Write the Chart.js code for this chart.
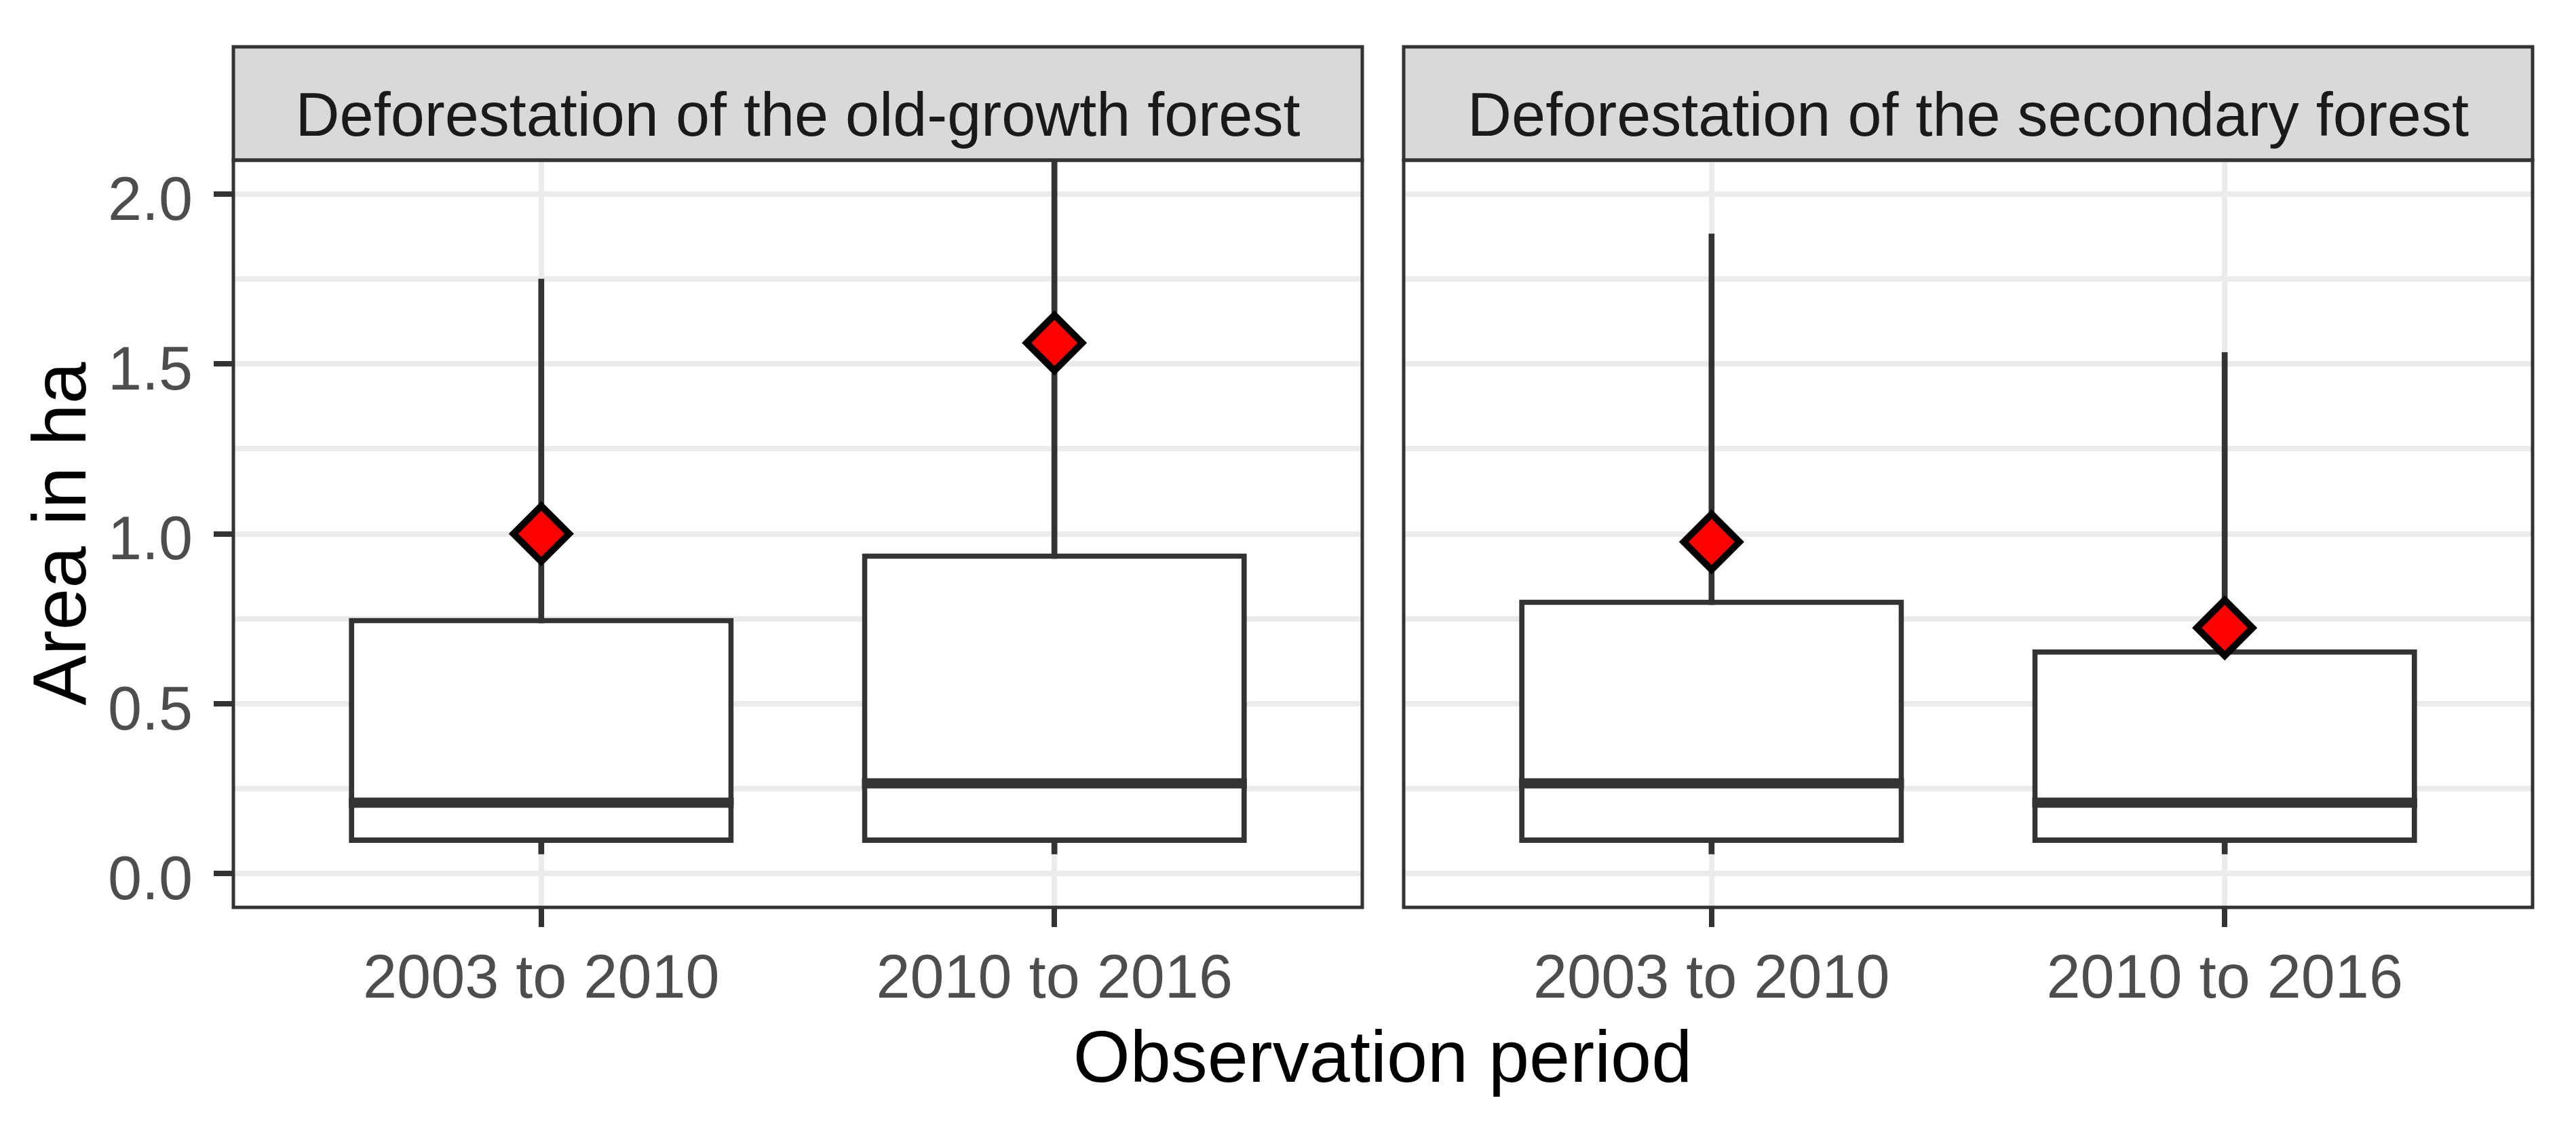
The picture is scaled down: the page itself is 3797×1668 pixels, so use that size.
<!DOCTYPE html>
<html>
<head>
<meta charset="utf-8">
<script src="https://cdn.jsdelivr.net/npm/chart.js@4.4.1/dist/chart.umd.min.js"></script>
<style>
    body { margin: 0; background: #ffffff; }
    #pagina { position: relative; width: 3797px; height: 1668px; font-family: "Liberation Sans", Arial, sans-serif; }
    .painel { position: absolute; top: 60px; height: 1440px; }
    #tituloX { position: absolute; left: 1038px; width: 2000px; top: 1503px; text-align: center; font-size: 108px; line-height: 108px; color: #000000; }
</style>
</head>
<body>
<div id="pagina">
    <div class="painel" style="left:0px;width:2020px"><canvas id="painelAntigo"></canvas></div>
    <div class="painel" style="left:2050px;width:1695px"><canvas id="painelSecundario"></canvas></div>
    <div id="tituloX">Observation period</div>
</div>
<script>
// categorias e valores
const periods = ['2003 to 2010', '2010 to 2016'];
const periodX = [1, 2];
const panelTitles = ['Deforestation of the old-growth forest', 'Deforestation of the secondary forest'];
const yMajorTicks = [0, 0.5, 1.0, 1.5, 2.0];
const yMinorTicks = [0.25, 0.75, 1.25, 1.75];

// floresta primária (old-growth)
const oldLow = [0.057, 0.057];
const oldQ1 = [0.09, 0.09];
const oldMedian = [0.208, 0.265];
const oldQ3 = [0.752, 0.942];
const oldHigh = [1.75, 2.4];
const oldMean = [1.0, 1.562];

// floresta secundária
const secLow = [0.057, 0.057];
const secQ1 = [0.09, 0.09];
const secMedian = [0.265, 0.208];
const secQ3 = [0.806, 0.66];
const secHigh = [1.883, 1.534];
const secMean = [0.976, 0.723];

Chart.defaults.font.family = '"Liberation Sans", Arial, sans-serif';

// desenha medianas, moldura do painel e a faixa do título
const painelPlugin = {
    id: 'painel',
    afterDatasetsDraw(chart, args, opts) {
        const ctx = chart.ctx;
        const meta = chart.getDatasetMeta(1);
        ctx.save();
        ctx.strokeStyle = '#333333';
        ctx.lineWidth = 15;
        meta.data.forEach(function (bar, i) {
            const y = chart.scales.y.getPixelForValue(opts.median[i]);
            ctx.beginPath();
            ctx.moveTo(bar.x - bar.width / 2, y);
            ctx.lineTo(bar.x + bar.width / 2, y);
            ctx.stroke();
        });
        ctx.restore();
    },
    afterDraw(chart, args, opts) {
        const ctx = chart.ctx;
        const a = chart.chartArea;
        const stripTop = a.top - 167;
        ctx.save();
        ctx.fillStyle = '#D9D9D9';
        ctx.fillRect(a.left, stripTop, a.right - a.left, a.top - stripTop);
        ctx.strokeStyle = '#333333';
        ctx.lineWidth = 5;
        ctx.strokeRect(a.left, stripTop, a.right - a.left, a.top - stripTop);
        ctx.strokeRect(a.left, a.top, a.right - a.left, a.bottom - a.top);
        ctx.fillStyle = '#1A1A1A';
        ctx.font = '90px "Liberation Sans", Arial, sans-serif';
        ctx.textAlign = 'center';
        ctx.textBaseline = 'alphabetic';
        ctx.fillText(opts.title, (a.left + a.right) / 2, a.top - 36);
        ctx.restore();
    }
};

function criarPainel(id, title, low, q1, median, q3, high, mean, showY, padLeft) {
    const ctx = document.getElementById(id);
    return new Chart(ctx.getContext('2d'), {
        type: 'bar',
        data: {
            datasets: [{
                // bigodes
                data: periodX.map((x, i) => ({ x: x, y: [low[i], high[i]] })),
                backgroundColor: '#333333',
                barThickness: 8,
                grouped: false,
                order: 3
            }, {
                // caixas
                data: periodX.map((x, i) => ({ x: x, y: [q1[i], q3[i]] })),
                backgroundColor: '#ffffff',
                borderColor: '#333333',
                borderWidth: 8,
                borderSkipped: false,
                grouped: false,
                categoryPercentage: 1,
                barPercentage: 0.75,
                order: 2
            }, {
                // médias
                type: 'scatter',
                data: periodX.map((x, i) => ({ x: x, y: mean[i] })),
                pointStyle: 'rectRot',
                pointRadius: 41,
                pointHoverRadius: 41,
                backgroundColor: '#FF0000',
                borderColor: '#000000',
                borderWidth: 10,
                order: 1
            }]
        },
        options: {
            responsive: true,
            maintainAspectRatio: false,
            devicePixelRatio: 1,
            animation: false,
            events: [],
            layout: {
                autoPadding: false,
                padding: { top: 176, right: 12, left: padLeft, bottom: 0 }
            },
            plugins: {
                legend: { display: false },
                tooltip: { enabled: false },
                painel: { median: median, title: title }
            },
            scales: {
                x: {
                    type: 'linear',
                    min: 0.4,
                    max: 2.6,
                    offset: false,
                    afterBuildTicks: s => { s.ticks = periodX.map(v => ({ value: v })); },
                    afterFit: s => { s.height = 163; s.paddingLeft = 0; s.paddingRight = 0; },
                    grid: { offset: false, color: '#EBEBEB', lineWidth: 8, tickColor: '#333333', tickWidth: 8, tickLength: 29 },
                    border: { display: false },
                    ticks: {
                        autoSkip: false,
                        maxRotation: 0,
                        padding: 25,
                        color: '#4D4D4D',
                        font: { size: 90, lineHeight: 1.2 },
                        callback: v => periods[periodX.indexOf(v)]
                    }
                },
                y: {
                    min: -0.1,
                    max: 2.1,
                    afterBuildTicks: s => {
                        s.ticks = yMajorTicks.concat(yMinorTicks).sort((a, b) => a - b).map(v => ({ value: v }));
                    },
                    afterFit: s => { s.width = showY ? 344 : 0; s.paddingTop = 0; s.paddingBottom = 0; },
                    grid: {
                        color: '#EBEBEB',
                        lineWidth: 8,
                        drawTicks: showY,
                        tickLength: 29,
                        tickWidth: 8,
                        tickColor: c => yMajorTicks.includes(c.tick.value) ? '#333333' : 'rgba(0,0,0,0)'
                    },
                    border: { display: false },
                    title: {
                        display: showY,
                        text: 'Area in ha',
                        color: '#000000',
                        font: { size: 111, lineHeight: 1.2 },
                        padding: { top: 29, bottom: 0 }
                    },
                    ticks: {
                        display: showY,
                        autoSkip: false,
                        padding: 31,
                        labelOffset: 13,
                        color: '#4D4D4D',
                        font: { size: 90, lineHeight: 1.2 },
                        callback: v => yMajorTicks.includes(v) ? v.toFixed(1) : ''
                    }
                }
            }
        },
        plugins: [painelPlugin]
    });
}

document.addEventListener("DOMContentLoaded", function () {
    criarPainel('painelAntigo', panelTitles[0], oldLow, oldQ1, oldMedian, oldQ3, oldHigh, oldMean, true, 0);
    criarPainel('painelSecundario', panelTitles[1], secLow, secQ1, secMedian, secQ3, secHigh, secMean, false, 19);
});
</script>
</body>
</html>
